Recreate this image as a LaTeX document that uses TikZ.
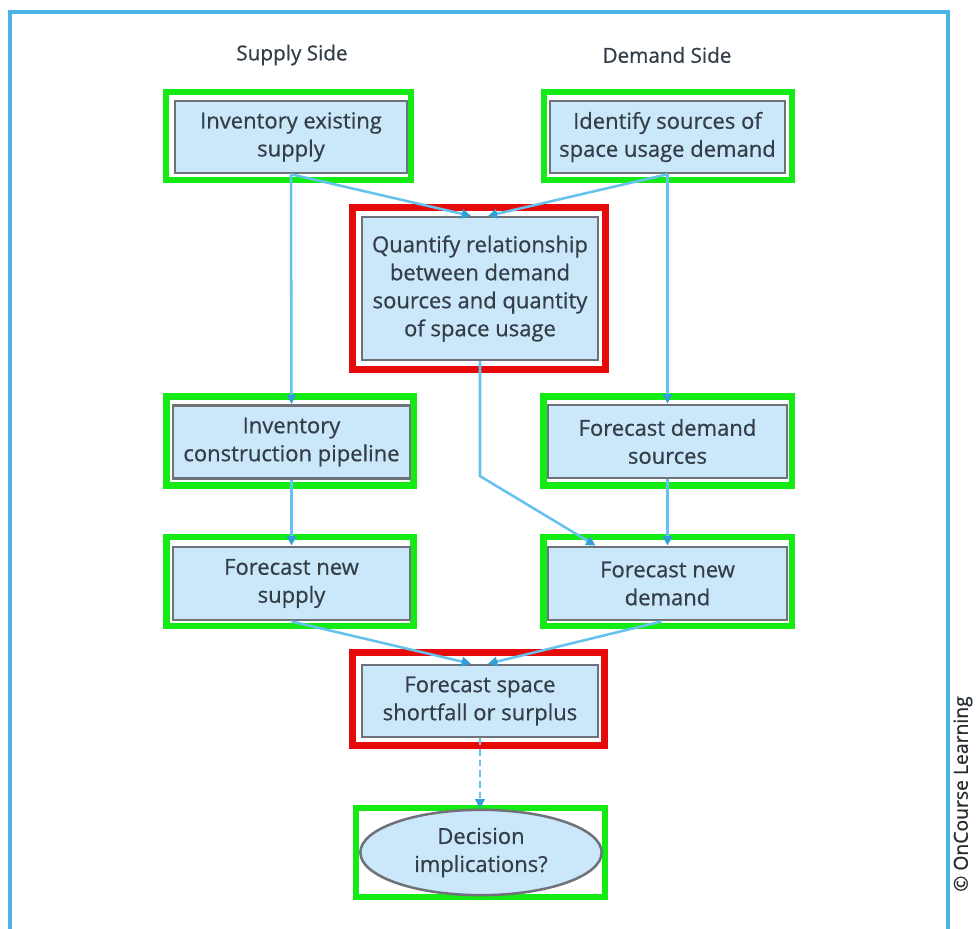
\documentclass[tikz,border=0pt]{standalone}
\usepackage{fontspec}
\setmainfont{Open Sans}
\newfontfamily\semifont{Open Sans}[FakeBold=0.7]
\usetikzlibrary{calc,arrows.meta,shapes.geometric}
\definecolor{conn}{RGB}{100,194,236}
\definecolor{tipc}{RGB}{50,160,212}
\definecolor{boxfill}{RGB}{202,232,250}
\definecolor{boxline}{RGB}{112,114,122}
\definecolor{txt}{RGB}{52,62,72}
\definecolor{gfr}{RGB}{20,235,20}
\definecolor{rfr}{RGB}{230,10,10}
\definecolor{outer}{RGB}{75,180,230}
\tikzset{
  flowbox/.style={draw=boxline, line width=1.9pt, fill=boxfill, text=txt,
    align=center, inner sep=0pt, font=\semifont\fontsize{16.5}{21}\selectfont},
  gframe/.style={draw=gfr, line width=4.6pt},
  rframe/.style={draw=rfr, line width=4.6pt},
  connline/.style={draw=conn, line width=1.9pt,
    -{Triangle[length=7pt,width=7pt,color=tipc]}},
  header/.style={text=txt, font=\semifont\fontsize{15.5}{18}\selectfont}
}
\begin{document}
\begin{tikzpicture}[x=0.75pt,y=-0.75pt]
\useasboundingbox (0,0) rectangle (976,929);
% outer frame
\draw[outer, line width=2.4pt] (10,940) -- (10,12) -- (948,12) -- (948,940);
% headers
\node[header] (hs) at (292,55) {Supply Side};
\node[header] (hd) at (667,55) {Demand Side};
% frames
\draw[gframe] (166,92) rectangle (411,180);
\draw[gframe] (544,92) rectangle (792,180);
\draw[rframe] (352.5,207.5) rectangle (605.5,369.5);
\draw[gframe] (166.5,396.5) rectangle (413.5,485.5);
\draw[gframe] (543.5,396.5) rectangle (792,485.5);
\draw[gframe] (166.5,537) rectangle (413.5,626);
\draw[gframe] (543.5,537) rectangle (792,626);
\draw[rframe] (352.5,652.5) rectangle (604.5,745.5);
\draw[gframe] (356,808) rectangle (605,897);
% boxes
\node[flowbox, minimum width=174pt, minimum height=54pt] (inv) at (291,137)
  {Inventory existing\\supply};
\node[flowbox, minimum width=176pt, minimum height=54pt] (ident) at (667.5,137)
  {Identify sources of\\space usage demand};
\node[flowbox, minimum width=177pt, minimum height=107pt] (quant) at (480,288.5)
  {Quantify relationship\\between demand\\sources and quantity\\of space usage};
\node[flowbox, minimum width=178pt, minimum height=55pt] (pipe) at (291.5,442)
  {Inventory\\construction pipeline};
\node[flowbox, minimum width=179pt, minimum height=55pt] (fds) at (667.5,441.5)
  {Forecast demand\\sources};
\node[flowbox, minimum width=178pt, minimum height=55pt] (nsup) at (291.5,583.5)
  {Forecast new\\supply};
\node[flowbox, minimum width=179pt, minimum height=55pt] (ndem) at (667.5,583.5)
  {Forecast new\\demand};
\node[flowbox, minimum width=177pt, minimum height=54pt] (short) at (480,701)
  {Forecast space\\shortfall or surplus};
\node[flowbox, ellipse, minimum width=181pt, minimum height=64pt] (dec) at (481,852.5)
  {Decision\\implications?};
% connectors
\draw[connline] (inv.south) -- (pipe.north);
\draw[connline] (inv.south) -- ($(quant.north)+(-9,0)$);
\draw[connline] (ident.south) -- ($(quant.north)+(8,0)$);
\draw[connline] (ident.south) -- (fds.north);
\coordinate (bend) at ($(quant.south)+(0,115)$);
\draw[connline] (quant.south) -- (bend) -- ($(ndem.north)+(-72,0)$);
\draw[connline] (pipe.south) -- (nsup.north);
\draw[connline] (fds.south) -- (ndem.north);
\draw[connline] (nsup.south) -- ($(short.north)+(-9,0)$);
\draw[connline] ($(ndem.south)+(-6,0)$) -- ($(short.north)+(8,0)$);
\draw[connline, dash pattern=on 5pt off 3pt] (short.south) -- ($(dec.north)+(-1,0)$);
% credit
\node[rotate=90, text=txt!70!black, font=\semifont\fontsize{14.5}{16}\selectfont] (cr) at (963,794)
  {© OnCourse Learning};
\end{tikzpicture}
\end{document}
